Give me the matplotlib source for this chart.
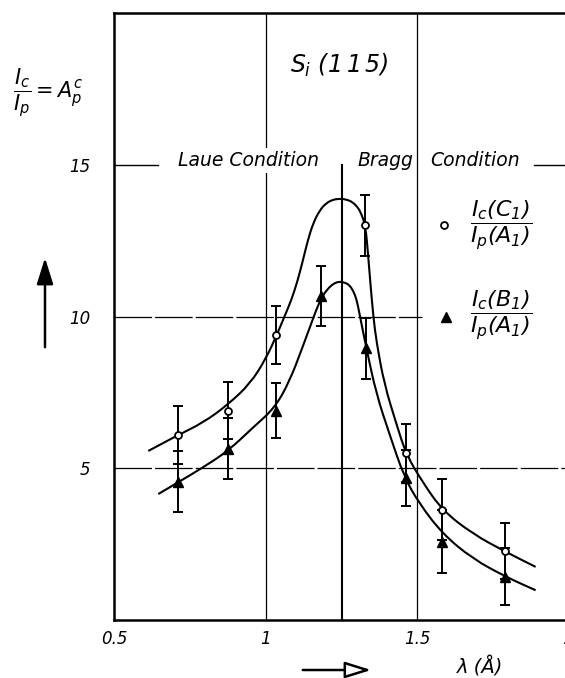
import matplotlib
matplotlib.use("Agg")
import matplotlib.pyplot as plt
from matplotlib.path import Path
from matplotlib.patches import PathPatch, FancyArrowPatch

plt.rcParams["font.family"] = ["DejaVu Sans"]
plt.rcParams["mathtext.fontset"] = "custom"
plt.rcParams["mathtext.it"] = "DejaVu Sans:italic"
plt.rcParams["mathtext.rm"] = "DejaVu Sans:italic"

# measured ratios with error bars
wl_c1 = [0.71, 0.875, 1.033, 1.329, 1.464, 1.582, 1.79]
ratio_c1 = [6.1, 6.9, 9.4, 13.0, 5.5, 3.64, 2.26]
err_c1 = [0.95, 0.95, 0.95, 1.0, 0.95, 1.0, 0.92]

wl_b1 = [0.71, 0.875, 1.033, 1.184, 1.332, 1.464, 1.582, 1.79]
ratio_b1 = [4.56, 5.64, 6.9, 10.68, 8.95, 4.69, 2.58, 1.43]
err_b1 = [1.0, 1.0, 0.9, 1.0, 1.0, 0.92, 1.04, 0.94]

# hand drawn fit curves
curve_c1_x = [0.613, 0.706, 0.794, 0.876, 0.95, 1.0, 1.035, 1.062, 1.085, 1.106,
              1.123, 1.139, 1.156, 1.178, 1.2, 1.222, 1.243, 1.265, 1.287, 1.305,
              1.315, 1.329, 1.338, 1.346, 1.355, 1.365, 1.391, 1.431, 1.463, 1.518,
              1.583, 1.682, 1.792, 1.89]
curve_c1_y = [5.57, 6.07, 6.5, 7.1, 7.8, 8.6, 9.35, 10.0, 10.55, 11.2,
              11.86, 12.51, 13.06, 13.5, 13.74, 13.85, 13.88, 13.86, 13.77, 13.58,
              13.39, 13.0, 12.0, 11.0, 10.0, 9.18, 7.77, 6.46, 5.46, 4.53,
              3.61, 2.84, 2.24, 1.75]

curve_b1_x = [0.646, 0.712, 0.794, 0.876, 0.958, 1.03, 1.079, 1.122, 1.155, 1.172,
              1.189, 1.211, 1.227, 1.243, 1.26, 1.276, 1.29, 1.3, 1.309, 1.332,
              1.365, 1.408, 1.457, 1.507, 1.583, 1.682, 1.792, 1.89]
curve_b1_y = [4.15, 4.54, 5.03, 5.57, 6.34, 6.99, 7.87, 9.0, 9.9, 10.35,
              10.71, 10.98, 11.1, 11.15, 11.12, 11.04, 10.82, 10.55, 10.11, 8.95,
              7.44, 6.13, 4.7, 3.83, 2.84, 2.02, 1.42, 0.98]

xticks = [0.5, 1, 1.5, 2]
xticklabels = ["0.5", "1", "1.5", "2"]
yticks = [5, 10, 15]
yticklabels = ["5", "10", "15"]


def smooth_path(xs, ys):
    # quadratic bezier through the midpoints of the drawn points
    verts = [(xs[0], ys[0])]
    codes = [Path.MOVETO]
    for i in range(1, len(xs) - 1):
        verts.append((xs[i], ys[i]))
        verts.append(((xs[i] + xs[i + 1]) / 2, (ys[i] + ys[i + 1]) / 2))
        codes += [Path.CURVE3, Path.CURVE3]
    verts.append((xs[-1], ys[-1]))
    codes.append(Path.LINETO)
    return Path(verts, codes)


fig = plt.figure(figsize=(5.65, 6.78), dpi=100)
ax = fig.add_axes([114 / 565, 1 - 620 / 678, 455 / 565, 607 / 678])
ax.set_xlim(0.5, 2.0)
ax.set_ylim(0, 20)

for side in ["left", "top", "bottom"]:
    ax.spines[side].set_linewidth(1.8)
ax.spines["right"].set_visible(False)

ax.set_xticks(xticks)
ax.set_xticklabels(xticklabels, fontstyle="italic", fontsize=12)
ax.set_yticks(yticks)
ax.set_yticklabels(yticklabels, fontstyle="italic", fontsize=12)
ax.tick_params(axis="both", length=0)
ax.tick_params(axis="x", pad=7)
ax.tick_params(axis="y", pad=17)

# reference lines
ax.axvline(1.0, color="black", lw=0.9, zorder=1)
ax.axvline(1.5, color="black", lw=0.9, zorder=1)
ax.plot([1.25, 1.25], [0, 15], color="black", lw=1.5, zorder=1)
ax.plot([0.5, 0.645], [15, 15], color="black", lw=1.0, zorder=1)
ax.plot([1.885, 2.0], [15, 15], color="black", lw=1.0, zorder=1)
ax.plot([0.5, 1.516], [10, 10], color="black", lw=0.9, dashes=(30, 2.5), zorder=1)
ax.plot([0.5, 2.0], [5, 5], color="black", lw=0.9, dashes=(30, 2.5), zorder=1)

for cx, cy in [(curve_c1_x, curve_c1_y), (curve_b1_x, curve_b1_y)]:
    ax.add_patch(PathPatch(smooth_path(cx, cy), fill=False, ec="black",
                           lw=1.5, zorder=3))

ax.errorbar(wl_c1, ratio_c1, yerr=err_c1, fmt="none", ecolor="black",
            elinewidth=1.4, capsize=3.5, capthick=1.4, zorder=2)
ax.errorbar(wl_b1, ratio_b1, yerr=err_b1, fmt="none", ecolor="black",
            elinewidth=1.4, capsize=3.5, capthick=1.4, zorder=2)

ax.plot(wl_c1, ratio_c1, "o", ms=5, mfc="white", mec="black", mew=1.3, zorder=4)
ax.plot(wl_b1, ratio_b1, "^", ms=6.5, color="black", zorder=4)

# key
ax.plot([1.589], [13.0], "o", ms=5, mfc="white", mec="black", mew=1.3)
ax.plot([1.595], [10.0], "^", ms=6.5, color="black")
ax.text(1.775, 13.0, r"$\dfrac{I_c(C_1)}{I_p(A_1)}$",
        fontsize=16, ha="center", va="center")
ax.text(1.775, 10.03, r"$\dfrac{I_c(B_1)}{I_p(A_1)}$",
        fontsize=16, ha="center", va="center")

ax.text(1.243, 18.26, r"$S_i\ (1\,1\,5)$", fontsize=17, ha="center", va="center")
text_box = dict(facecolor="white", edgecolor="none", pad=2)
ax.text(0.944, 15.15, "Laue Condition", fontsize=13.5, fontstyle="italic",
        ha="center", va="center", zorder=5, bbox=text_box)
ax.text(1.395, 15.15, "Bragg", fontsize=13.5, fontstyle="italic",
        ha="center", va="center", zorder=5, bbox=text_box)
ax.text(1.691, 15.15, "Condition", fontsize=13.5, fontstyle="italic",
        ha="center", va="center", zorder=5, bbox=text_box)

# axis labels with arrows
fig.text(48 / 565, 1 - 93 / 678, r"$\dfrac{I_c}{I_p} = A_p^c$", fontsize=15,
         ha="center", va="center")
fig.add_artist(FancyArrowPatch(
    (45 / 565, 1 - 350 / 678), (45 / 565, 1 - 255 / 678),
    transform=fig.transFigure, arrowstyle="-|>,head_length=0.8,head_width=0.25",
    mutation_scale=20, lw=1.8, color="black"))
fig.add_artist(FancyArrowPatch(
    (300 / 565, 1 - 670 / 678), (374 / 565, 1 - 670 / 678),
    transform=fig.transFigure, arrowstyle="-|>,head_length=0.8,head_width=0.25",
    mutation_scale=20, lw=1.8, fc="white", ec="black"))
fig.text(480 / 565, 1 - 657 / 678, "λ (Å)", fontsize=14, fontstyle="italic",
         ha="center", va="top")

fig.savefig("out.png", dpi=100)
